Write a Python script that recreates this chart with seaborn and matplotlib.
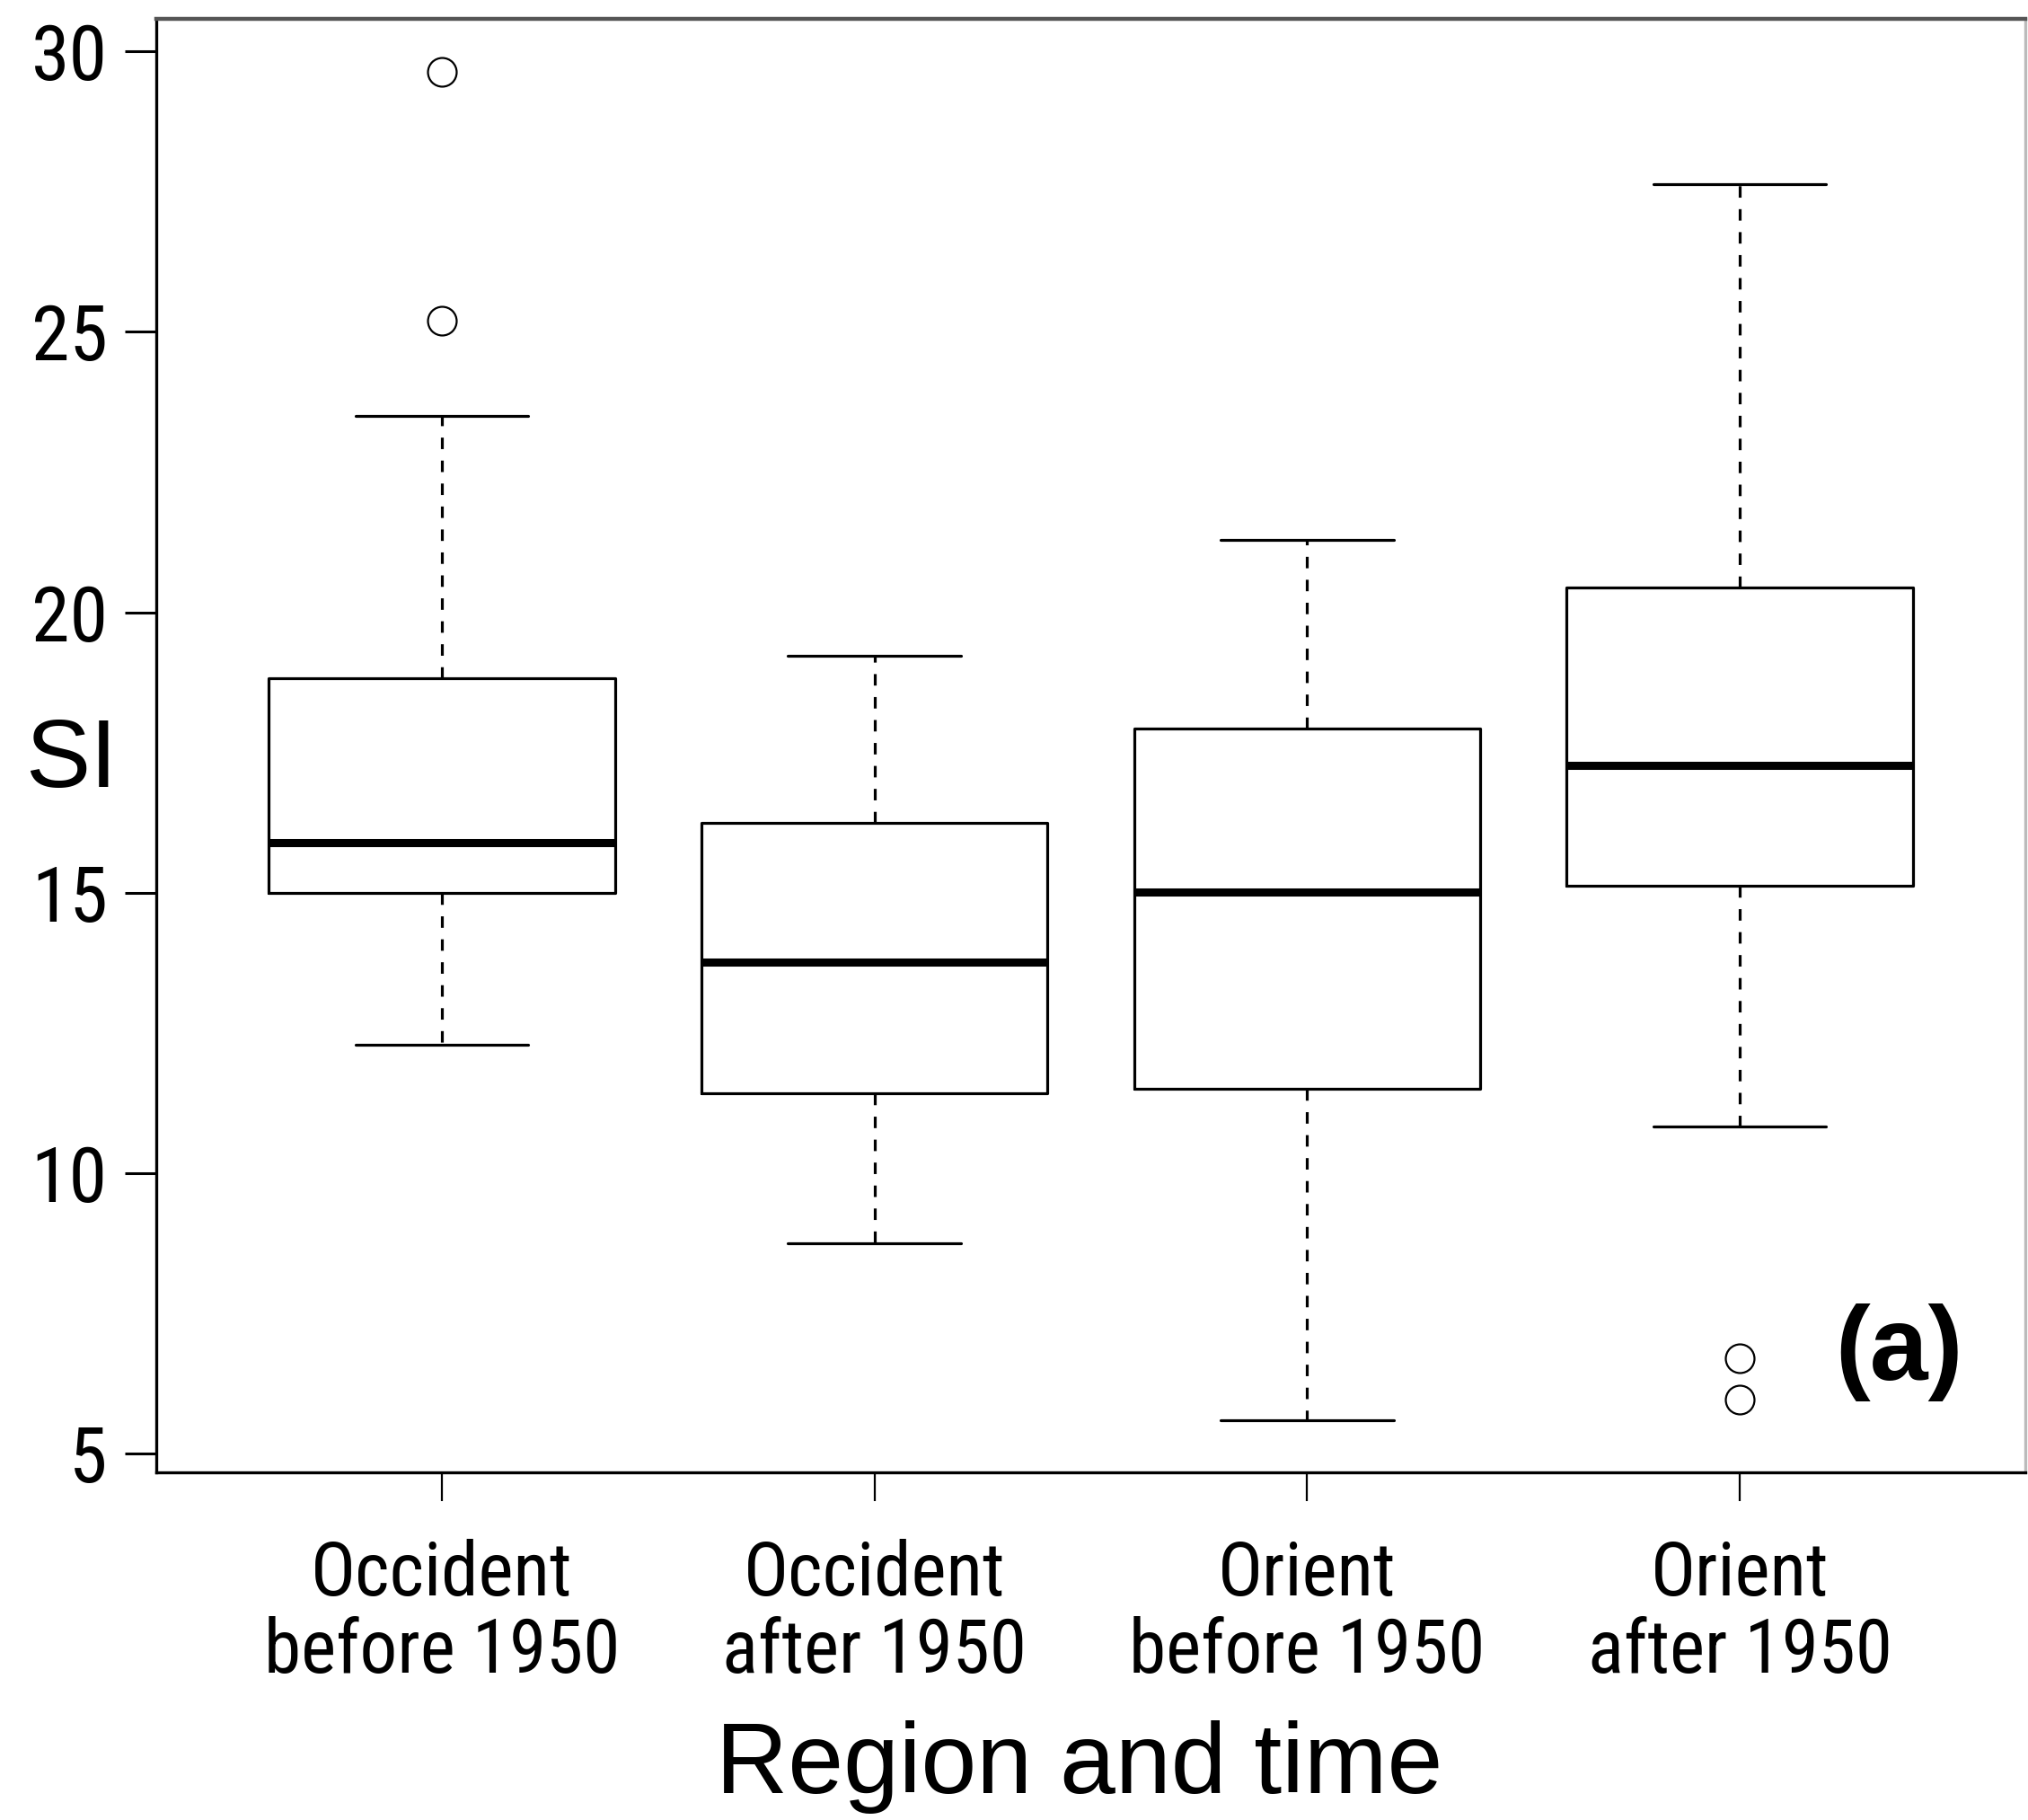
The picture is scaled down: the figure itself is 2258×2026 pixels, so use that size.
import matplotlib
matplotlib.use("Agg")
import matplotlib.pyplot as plt
import seaborn as sns
from matplotlib import font_manager
from matplotlib.font_manager import FontProperties

# ---- data ----
categories = ["Occident\nbefore 1950", "Occident\nafter 1950",
              "Orient\nbefore 1950", "Orient\nafter 1950"]
whisker_low = [12.30, 8.76, 5.60, 10.83]
q1_values = [15.00, 11.43, 11.50, 15.12]
median_values = [15.90, 13.76, 15.02, 17.28]
q3_values = [18.82, 16.24, 17.93, 20.44]
whisker_high = [23.50, 19.22, 21.29, 27.63]
outliers = [[25.20, 29.63], [], [], [5.97, 6.71]]
y_ticks = [5, 10, 15, 20, 25, 30]

sns.set_theme(style="ticks")
plt.rcParams["font.family"] = ["Liberation Sans", "DejaVu Sans"]


def find_condensed():
    entries = font_manager.fontManager.ttflist

    def is_regular(f):
        w = f.weight
        ok_w = w in (400, "normal", "regular", "book") or (isinstance(w, int) and 350 <= w <= 450)
        return ok_w and f.style == "normal"

    def is_narrow(f):
        n = (f.name + " " + f.fname).lower()
        st = f.stretch
        cond = st in ("condensed", "semi-condensed", "extra-condensed", "ultra-condensed") or \
            (isinstance(st, int) and st < 500)
        return cond or "narrow" in n or "condensed" in n

    prefs = ["liberation sans narrow", "arial narrow", "roboto condensed",
             "open sans condensed", "noto sans", "dejavu sans", "lato", "inter"]
    cands = [f for f in entries if is_regular(f) and is_narrow(f)]
    for p in prefs:
        for f in cands:
            if p in f.name.lower() or p.replace(" ", "") in f.fname.lower().replace("-", "").replace("_", ""):
                return f.fname
    if cands:
        return cands[0].fname
    return None


narrow_path = find_condensed()


def tick_font(size):
    if narrow_path:
        return FontProperties(fname=narrow_path, size=size)
    return FontProperties(family="Liberation Sans", size=size, stretch="condensed")


DPI = 100
fig = plt.figure(figsize=(2258 / DPI, 2026 / DPI), dpi=DPI)
fig.patch.set_facecolor("white")
ax = fig.add_axes([174 / 2258, (2026 - 1639) / 2026, (2255 - 174) / 2258, (1639 - 21) / 2026])
ax.set_facecolor("white")

stats = []
for i, lab in enumerate(categories):
    stats.append(dict(label=lab, whislo=whisker_low[i], q1=q1_values[i], med=median_values[i],
                      q3=q3_values[i], whishi=whisker_high[i], fliers=outliers[i]))

lw = 2.3
ax.bxp(stats, positions=range(1, len(stats) + 1), widths=0.8, showfliers=True,
       boxprops=dict(color="black", linewidth=lw),
       medianprops=dict(color="black", linewidth=6.5, solid_capstyle="butt"),
       whiskerprops=dict(color="black", linewidth=lw, linestyle=(0, (4, 4))),
       capprops=dict(color="black", linewidth=lw),
       capwidths=0.4,
       flierprops=dict(marker="o", markersize=23, markerfacecolor="none",
                       markeredgecolor="black", markeredgewidth=1.6, linestyle="none"))

ax.set_xlim(0.34, 4.66)
ax.set_ylim(4.67, 30.58)
ax.set_yticks(y_ticks)
ax.set_yticklabels([str(t) for t in y_ticks], fontproperties=tick_font(62))
ax.set_xticks(range(1, len(categories) + 1))
ax.set_xticklabels(categories, fontproperties=tick_font(60), linespacing=1.1)

ax.tick_params(axis="y", length=25, width=2.2, pad=14, color="black", labelcolor="black")
ax.tick_params(axis="x", length=23, width=1.6, pad=30, color="black", labelcolor="black")
for side, sp in ax.spines.items():
    sp.set_visible(True)
    sp.set_color("black")
    sp.set_linewidth(2.4)
ax.spines["top"].set_color("#555555")
ax.spines["top"].set_linewidth(3.2)
ax.spines["right"].set_color("#bbbbbb")
ax.grid(False)

ax.set_xlabel("Region and time", fontsize=80, labelpad=28, color="black")
ax.xaxis.set_label_coords(0.494, -0.1705)
ax.xaxis.label.set_verticalalignment("top")
ax.set_ylabel("SI", fontsize=78, rotation=0, color="black", ha="center", va="center")
ax.yaxis.set_label_coords(79 / 2258, (2026 - 848) / 2026, transform=fig.transFigure)

ax.text(2114 / 2258, (2026 - 1505) / 2026, "(a)", transform=fig.transFigure,
        fontsize=84, fontweight="bold", ha="center", va="center", color="black")

fig.savefig("out.png", dpi=DPI, facecolor="white")
